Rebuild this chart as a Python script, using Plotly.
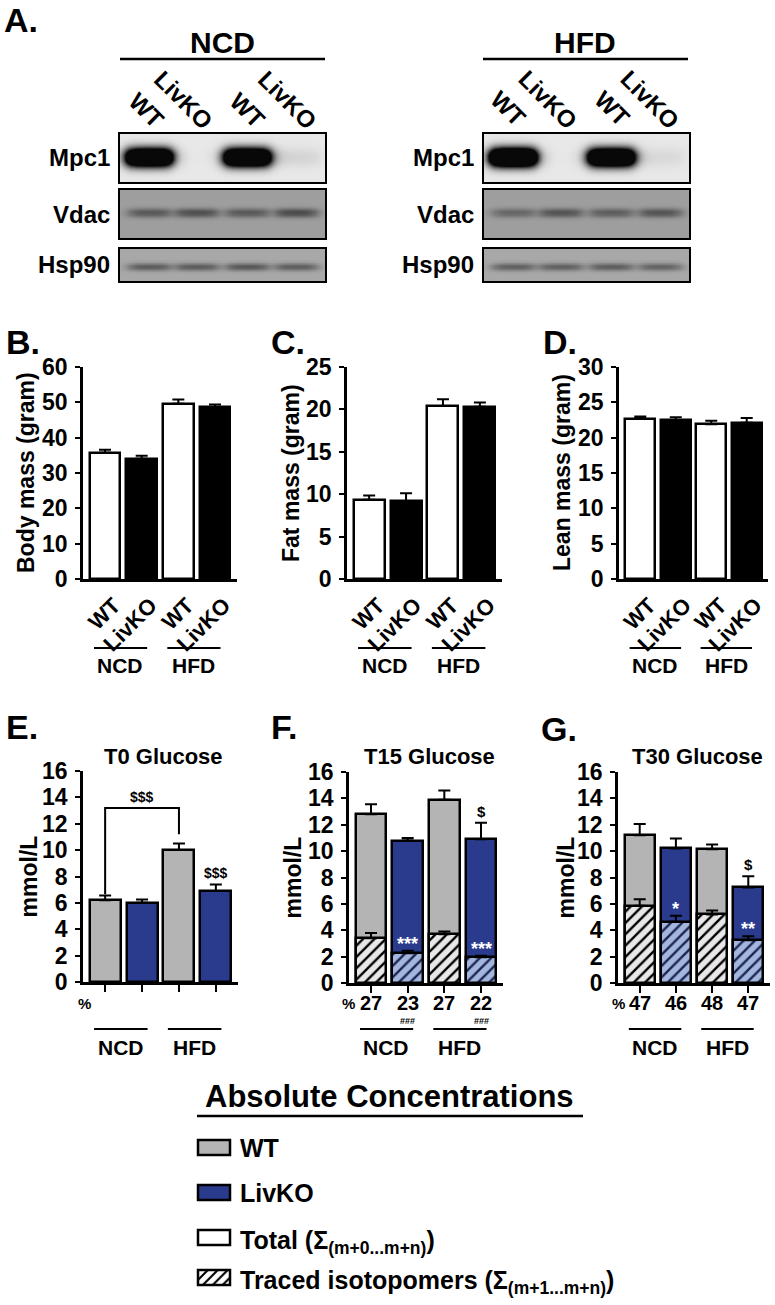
import numpy as np
import plotly.graph_objects as go

W, H = 775, 1305
def px(v): return v / W
def py(v): return 1 - v / H

FONT = "Arial, Liberation Sans, sans-serif"
GREY = "#b4b4b4"
BLUE = "#2a3b8e"
LIGHT_GREY = "#e8e8e8"
LIGHT_BLUE = "#a3b6de"

# ---------------- data ----------------
diets = ["NCD", "HFD"]
genotypes = ["WT", "LivKO", "WT", "LivKO"]
positions = [0, 1, 2, 3]

body_mass = [35.7, 34.0, 49.6, 48.7]
body_mass_err = [0.9, 0.9, 1.2, 0.7]
fat_mass = [9.35, 9.2, 20.4, 20.3]
fat_mass_err = [0.5, 0.9, 0.8, 0.5]
lean_mass = [22.7, 22.5, 21.9, 22.1]
lean_mass_err = [0.3, 0.4, 0.5, 0.7]

t0_total = [6.2, 6.0, 10.0, 6.9]
t0_total_err = [0.35, 0.25, 0.5, 0.5]

t15_total = [12.8, 10.8, 13.9, 10.9]
t15_total_err = [0.75, 0.2, 0.7, 1.25]
t15_traced = [3.4, 2.25, 3.7, 1.95]
t15_traced_err = [0.4, 0.2, 0.2, 0.12]
t15_pct = ["27", "23", "27", "22"]
t15_pct_sig = ["", "###", "", "###"]
t15_star = ["", "***", "", "***"]
t15_dollar = ["", "", "", "$"]

t30_total = [11.2, 10.2, 10.15, 7.25]
t30_total_err = [0.85, 0.75, 0.35, 0.85]
t30_traced = [5.85, 4.65, 5.2, 3.25]
t30_traced_err = [0.5, 0.45, 0.3, 0.3]
t30_pct = ["47", "46", "48", "47"]
t30_star = ["", "*", "", "**"]
t30_dollar = ["", "", "", "$"]

t0_dollar = ["", "", "", "$$$"]

# western blot band intensities (relative) per lane: WT, LivKO, WT, LivKO
blot_proteins = ["Mpc1", "Vdac", "Hsp90"]
blot_ncd = {"Mpc1": [1.0, 0.0, 1.0, 0.04], "Vdac": [0.75, 0.85, 0.75, 0.9], "Hsp90": [0.8, 0.8, 0.85, 0.78]}
blot_hfd = {"Mpc1": [1.1, 0.0, 1.0, 0.03], "Vdac": [0.6, 0.8, 0.7, 0.8], "Hsp90": [0.75, 0.75, 0.78, 0.72]}

fig = go.Figure()
ann = []
shapes = []
layout = {}

def xn(n): return "x" if n == 1 else f"x{n}"
def yn(n): return "y" if n == 1 else f"y{n}"
def xa(n): return "xaxis" if n == 1 else f"xaxis{n}"
def ya(n): return "yaxis" if n == 1 else f"yaxis{n}"

def txt(x, y, s, size, color="black", **kw):
    d = dict(x=x, y=y, text=s, showarrow=False, xanchor="center", yanchor="middle",
             font=dict(size=size, color=color, family=FONT, weight="bold"),
             xref="paper", yref="paper")
    d.update(kw)
    ann.append(d)

# ---------------- chart axes ----------------
charts = [
    # n, xpix, ypix(top,bottom), ymax, dtick, ytitle, title x
    (1, (83, 237), (367, 579), 60, 10, "Body mass (gram)", 26),
    (2, (347, 502), (367, 579), 25, 5, "Fat mass (gram)", 291),
    (3, (619, 768), (367, 579), 30, 5, "Lean mass (gram)", 562),
    (4, (83, 238), (771, 982), 16, 2, "mmol/L", 28),
    (5, (349, 503), (772, 983), 16, 2, "mmol/L", 292),
    (6, (618, 770), (772, 983), 16, 2, "mmol/L", 565),
]
for n, (x0, x1), (yt, yb), ymax, dt, ytitle, tx in charts:
    glucose = n >= 4
    layout[xa(n)] = dict(domain=[px(x0), px(x1)], range=[-0.6, 3.6], anchor=yn(n),
                         showline=True, linecolor="black", linewidth=2.5, showgrid=False,
                         zeroline=False, tickvals=positions,
                         ticks="outside" if glucose else "", ticklen=7, tickwidth=2, tickcolor="black",
                         tickfont=dict(size=22, family=FONT, color="black", weight="bold"),
                         fixedrange=True)
    layout[ya(n)] = dict(domain=[py(yb), py(yt)], range=[0, ymax], dtick=dt, anchor=xn(n),
                         showline=True, linecolor="black", linewidth=2.5, showgrid=False,
                         zeroline=False, ticks="outside", ticklen=5, tickwidth=2, tickcolor="black",
                         tickfont=dict(size=23, family=FONT, color="black", weight="bold"),
                         ticklabelstandoff=3, fixedrange=True)
    txt(px(tx), py((yt + yb) / 2), ytitle, 23, textangle=-90)

# rotated genotype tick labels for B-D
for n in (1, 2, 3):
    layout[xa(n)].update(ticktext=genotypes, tickangle=-45, ticklabelshift=9, ticklabelstandoff=2)
for n in (4, 5, 6):
    layout[xa(n)].update(showticklabels=False)

# enrichment percentages under glucose panels
for n, pct in ((5, t15_pct), (6, t30_pct)):
    for i in positions:
        txt(positions[i], py(1003), pct[i], 20, xref=xn(n))

# ---------------- B, C, D bars ----------------
def simple_bars(n, vals, errs):
    for idx, fill in (([0, 2], "white"), ([1, 3], "black")):
        fig.add_trace(go.Bar(
            x=[positions[i] for i in idx], y=[vals[i] for i in idx], width=0.84,
            marker=dict(color=fill, line=dict(color="black", width=2.5)),
            error_y=dict(type="data", symmetric=False, array=[errs[i] for i in idx],
                         arrayminus=[0, 0], color="black", thickness=2, width=6),
            xaxis=xn(n), yaxis=yn(n), showlegend=False, hoverinfo="skip"))

simple_bars(1, body_mass, body_mass_err)
simple_bars(2, fat_mass, fat_mass_err)
simple_bars(3, lean_mass, lean_mass_err)

# ---------------- E, F, G bars ----------------
def glucose_bars(n, total, total_err, traced=None, traced_err=None):
    for idx, fill in (([0, 2], GREY), ([1, 3], BLUE)):
        fig.add_trace(go.Bar(
            x=[positions[i] for i in idx], y=[total[i] for i in idx], width=0.84,
            marker=dict(color=fill, line=dict(color="black", width=2.5)),
            error_y=dict(type="data", symmetric=False, array=[total_err[i] for i in idx],
                         arrayminus=[0, 0], color="black", thickness=2, width=6),
            xaxis=xn(n), yaxis=yn(n), showlegend=False, hoverinfo="skip"))
    if traced is None:
        return
    for idx, bg, fg in (([0, 2], LIGHT_GREY, "black"), ([1, 3], LIGHT_BLUE, "#1b2550")):
        fig.add_trace(go.Bar(
            x=[positions[i] for i in idx], y=[traced[i] for i in idx], width=0.84,
            marker=dict(color=bg, line=dict(color="black", width=2.5),
                        pattern=dict(shape="/", bgcolor=bg, fgcolor=fg, size=8, solidity=0.3)),
            error_y=dict(type="data", symmetric=False, array=[traced_err[i] for i in idx],
                         arrayminus=[0, 0], color="black", thickness=2, width=6),
            xaxis=xn(n), yaxis=yn(n), showlegend=False, hoverinfo="skip"))

glucose_bars(4, t0_total, t0_total_err)
glucose_bars(5, t15_total, t15_total_err, t15_traced, t15_traced_err)
glucose_bars(6, t30_total, t30_total_err, t30_traced, t30_traced_err)

# significance marks
for i in positions:
    if t0_dollar[i]:
        txt(positions[i], t0_total[i] + t0_total_err[i], t0_dollar[i], 14, xref="x4", yref="y4",
            yanchor="bottom", yshift=1)
    if t15_dollar[i]:
        txt(positions[i], t15_total[i] + t15_total_err[i], t15_dollar[i], 15, xref="x5", yref="y5",
            yanchor="bottom", yshift=1)
    if t30_dollar[i]:
        txt(positions[i], t30_total[i] + t30_total_err[i], t30_dollar[i], 15, xref="x6", yref="y6",
            yanchor="bottom", yshift=1)
    if t15_star[i]:
        txt(positions[i], t15_traced[i] + t15_traced_err[i], t15_star[i], 18, color="white",
            xref="x5", yref="y5", yanchor="bottom", yshift=-5)
    if t30_star[i]:
        txt(positions[i], t30_traced[i] + t30_traced_err[i], t30_star[i], 18, color="white",
            xref="x6", yref="y6", yanchor="bottom", yshift=-5)
    if t15_pct_sig[i]:
        txt(positions[i], py(1021), t15_pct_sig[i], 9, xref="x5")

# T0 bracket between WT NCD and WT HFD
br_y = 13.2
shapes.append(dict(type="path", xref="x4", yref="y4",
                   path=f"M {positions[0]},{t0_total[0] + t0_total_err[0] + 0.1} L {positions[0]},{br_y} "
                        f"L {positions[2]},{br_y} L {positions[2]},{t0_total[2] + t0_total_err[2] + 0.7}",
                   line=dict(color="black", width=2)))
txt((positions[0] + positions[2]) / 2, br_y, "$$$", 14, xref="x4", yref="y4", yanchor="bottom", yshift=1)

# titles of glucose panels
for n, title in ((4, "T0 Glucose"), (5, "T15 Glucose"), (6, "T30 Glucose")):
    d = layout[xa(n)]["domain"]
    txt((d[0] + d[1]) / 2 + px(3), py(756), title, 22)

# % markers
for xp in (84, 348, 618):
    txt(px(xp), py(1003), "%", 15)

# group lines + diet labels
for n in (1, 2, 3, 4, 5, 6):
    ly, ty = (648, 665) if n <= 3 else (1029, 1047)
    for g, diet in enumerate(diets):
        a, b = positions[2 * g], positions[2 * g + 1]
        shapes.append(dict(type="line", xref=xn(n), yref="paper", x0=a - 0.3, x1=b + 0.15,
                           y0=py(ly), y1=py(ly), line=dict(color="black", width=2)))
        txt((a + b) / 2 - 0.08, py(ty), diet, 21, xref=xn(n))

# panel letters
for L, x, y in (("A.", 2, 20), ("B.", 4, 342), ("C.", 269, 342), ("D.", 541, 342),
                ("E.", 4, 727), ("F.", 269, 727), ("G.", 539, 729)):
    txt(px(x), py(y), L, 34, xanchor="left")

# ---------------- western blots ----------------
lane_centers = [0.58, 1.5, 2.47, 3.42]
band_style = {  # width (lanes), vertical sigma, vertical centre, bg, dark, gain
    "Mpc1": (0.88, 0.13, 0.52, 0.91, 0.03, 2.2),
    "Vdac": (0.78, 0.06, 0.53, 0.62, 0.25, 1.0),
    "Hsp90": (0.78, 0.08, 0.45, 0.66, 0.28, 1.0),
}
rows_px = {"Mpc1": (133, 183), "Vdac": (189, 239), "Hsp90": (248, 282)}
row_label_y = {"Mpc1": 157, "Vdac": 214, "Hsp90": 264}
boxes_px = {"NCD": (119, 326, 112, blot_ncd), "HFD": (483, 690, 476, blot_hfd)}

xg = np.linspace(0, 4, 200)
yg = np.linspace(0, 1, 50)
n = 7
for diet in diets:
    bx0, bx1, lab_x, data = boxes_px[diet]
    for prot in blot_proteins:
        w, sig, yc, bg, dark, gain = band_style[prot]
        z = np.full((len(yg), len(xg)), bg)
        for c, a in zip(lane_centers, data[prot]):
            hx = 1 / (1 + np.exp(-(xg - (c - w / 2)) / 0.07)) / (1 + np.exp((xg - (c + w / 2)) / 0.07))
            vy = np.exp(-0.5 * ((yg - yc) / sig) ** 2)
            z = z - gain * a * (bg - dark) * np.outer(vy, hx)
        z = np.clip(z, dark, 1)
        y0p, y1p = rows_px[prot]
        fig.add_trace(go.Heatmap(x=xg, y=yg, z=z, zmin=0, zmax=1, zsmooth="best",
                                 colorscale=[[0, "black"], [1, "white"]], showscale=False,
                                 hoverinfo="skip", xaxis=xn(n), yaxis=yn(n)))
        layout[xa(n)] = dict(domain=[px(bx0), px(bx1)], range=[0, 4], visible=False, anchor=yn(n))
        layout[ya(n)] = dict(domain=[py(y1p), py(y0p)], range=[0, 1], visible=False, anchor=xn(n))
        shapes.append(dict(type="rect", xref="paper", yref="paper", x0=px(bx0), x1=px(bx1),
                           y0=py(y1p), y1=py(y0p), line=dict(color="black", width=2)))
        txt(px(lab_x), py(row_label_y[prot]), prot, 24, xanchor="right")
        n += 1

# blot headers
for diet, (x0, x1), cx in (("NCD", (120, 325), 222), ("HFD", (483, 688), 585)):
    txt(px(cx), py(42), diet, 30)
    shapes.append(dict(type="line", xref="paper", yref="paper", x0=px(x0), x1=px(x1),
                       y0=py(59), y1=py(59), line=dict(color="black", width=2.5)))
lane_label_pos = {"NCD": [(147, 110), (183, 100), (248, 110), (287, 100)],
                  "HFD": [(508, 109), (548, 99), (612, 109), (650, 99)]}
for diet in diets:
    for (lx, lyy), g in zip(lane_label_pos[diet], genotypes):
        txt(px(lx), py(lyy), g, 24, textangle=45)

# ---------------- legend ----------------
txt(px(390), py(1096), "Absolute Concentrations", 31)
shapes.append(dict(type="line", xref="paper", yref="paper", x0=px(197), x1=px(583),
                   y0=py(1116), y1=py(1116), line=dict(color="black", width=2.5)))
legend_items = [
    ("WT", GREY, 1140, 1155),
    ("LivKO", BLUE, 1185, 1200),
    ("Total (Σ<sub>(m+0...m+n)</sub>)", "white", 1230, 1245),
    ("Traced isotopomers (Σ<sub>(m+1...m+n)</sub>)", None, 1270, 1285),
]
for label, col, y0p, y1p in legend_items:
    if col is None:
        fig.add_trace(go.Bar(x=[0], y=[1], width=1.2, marker=dict(color="white", line=dict(width=0),
                             pattern=dict(shape="/", bgcolor="white", fgcolor="black", size=7, solidity=0.3)),
                             xaxis="x13", yaxis="y13", showlegend=False, hoverinfo="skip"))
        layout["xaxis13"] = dict(domain=[px(198), px(230)], range=[-0.5, 0.5], visible=False, anchor="y13")
        layout["yaxis13"] = dict(domain=[py(y1p), py(y0p)], range=[0, 1], visible=False, anchor="x13")
        shapes.append(dict(type="rect", xref="paper", yref="paper", x0=px(198), x1=px(230),
                           y0=py(y1p), y1=py(y0p), line=dict(color="black", width=2.5)))
    else:
        shapes.append(dict(type="rect", xref="paper", yref="paper", x0=px(198), x1=px(230),
                           y0=py(y1p), y1=py(y0p), fillcolor=col, line=dict(color="black", width=2.5)))
    sub = "<sub>" in label
    txt(px(238), py((y0p + y1p) / 2 + (4 if sub else 0)), label, 25, xanchor="left")

fig.update_layout(
    width=W, height=H, margin=dict(l=0, r=0, t=0, b=0), template="none",
    paper_bgcolor="white", plot_bgcolor="rgba(0,0,0,0)", barmode="overlay", bargap=0,
    showlegend=False, annotations=ann, shapes=shapes, font=dict(family=FONT, color="black"),
    **layout)

fig.write_html("out.html", config={"displayModeBar": False},
               post_script="document.body.style.margin='0';")
